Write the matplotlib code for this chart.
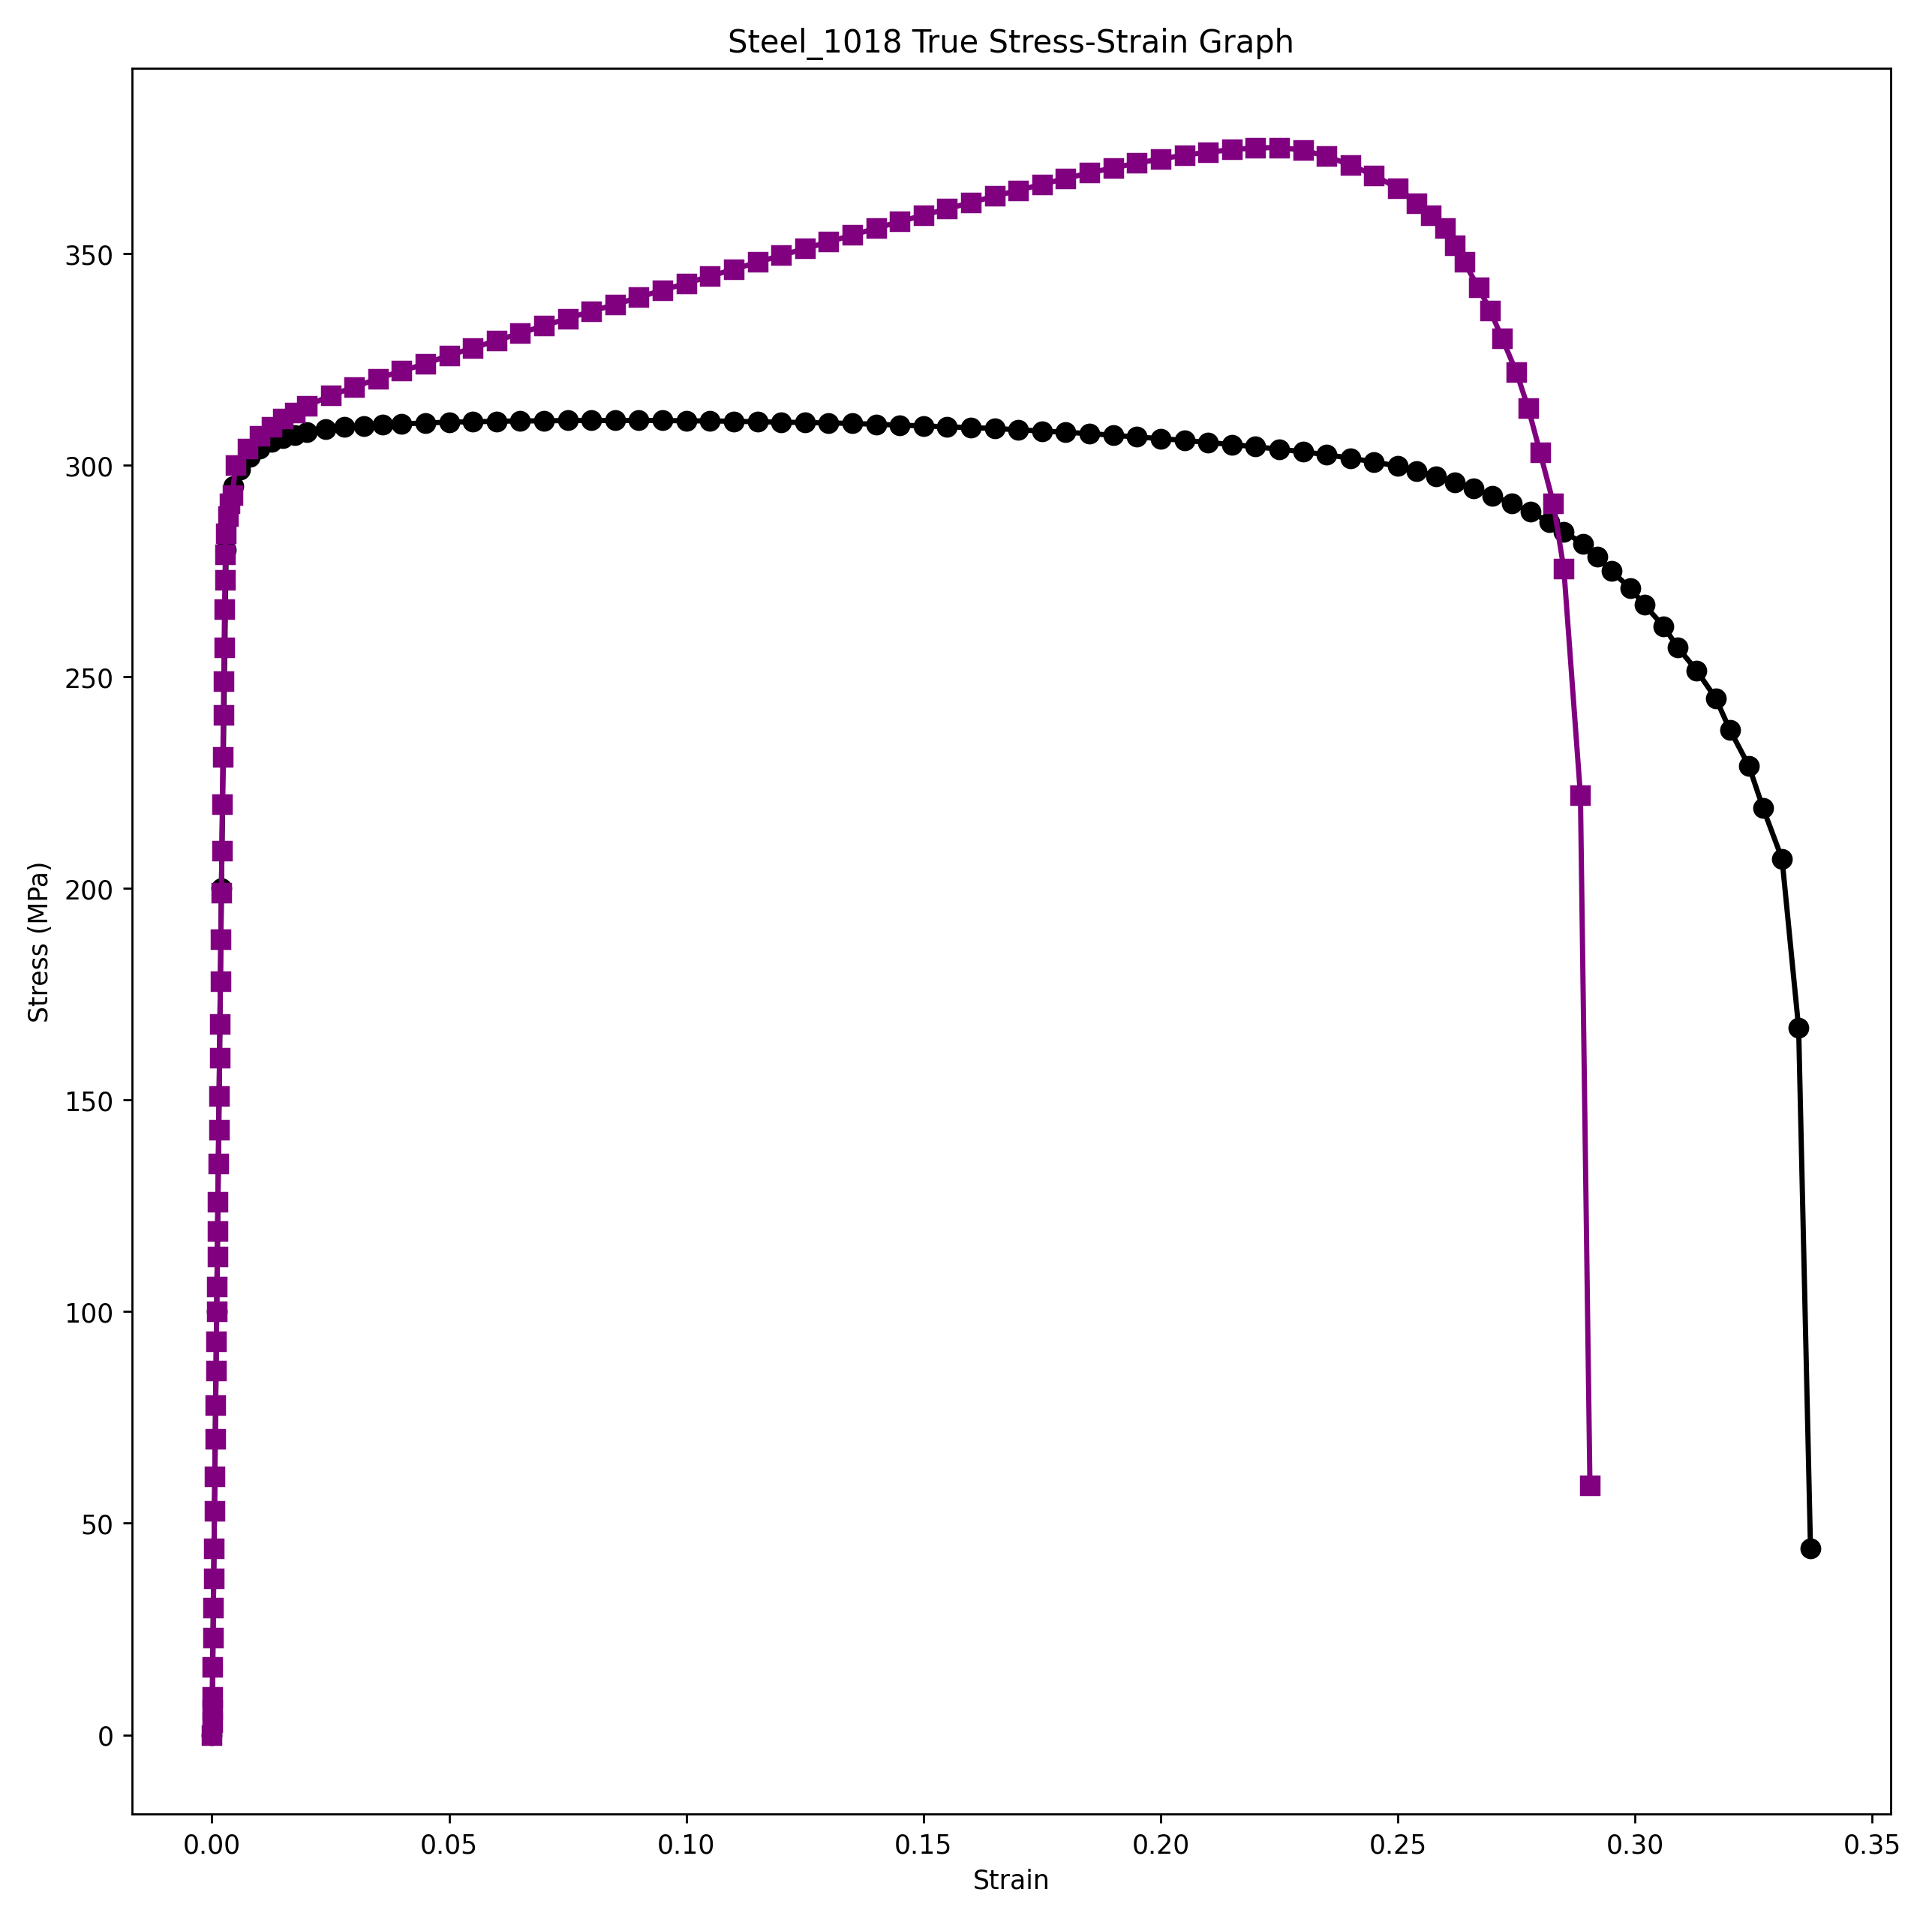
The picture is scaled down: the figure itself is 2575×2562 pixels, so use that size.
import matplotlib
matplotlib.use("Agg")
import matplotlib.pyplot as plt

# elastic region (shared start), purple curve
elastic_strain = [0.0, 0.00003, 0.00006, 0.00009, 0.00016, 0.00023, 0.0003, 0.00037, 0.00044,
                  0.00053, 0.00061, 0.0007, 0.00078, 0.00086, 0.00093, 0.001, 0.00106, 0.00113,
                  0.00119, 0.00126, 0.00135, 0.00143, 0.00151, 0.0016, 0.00168, 0.00178, 0.00188,
                  0.00199, 0.00209, 0.0022, 0.00231, 0.00241, 0.00249, 0.00257, 0.00266, 0.00275,
                  0.00285, 0.00295, 0.0034, 0.0038, 0.0043]
elastic_stress = [0, 3, 6, 9, 16, 23, 30, 37, 44, 53, 61, 70, 78, 86, 93, 100, 106, 113, 119, 126,
                  135, 143, 151, 160, 168, 178, 188, 199, 209, 220, 231, 241, 249, 257, 266, 273,
                  279, 284, 288, 291, 293]

purple_strain = [0.005, 0.0075, 0.01, 0.0125, 0.015, 0.0175, 0.02, 0.025, 0.03, 0.035, 0.04,
                 0.045, 0.05, 0.055, 0.06, 0.065, 0.07, 0.075, 0.08, 0.085, 0.09, 0.095, 0.1,
                 0.105, 0.11, 0.115, 0.12, 0.125, 0.13, 0.135, 0.14, 0.145, 0.15, 0.155, 0.16,
                 0.165, 0.17, 0.175, 0.18, 0.185, 0.19, 0.195, 0.2, 0.205, 0.21, 0.215, 0.22,
                 0.225, 0.23, 0.235, 0.24, 0.245, 0.25, 0.254, 0.257, 0.26, 0.262, 0.264, 0.267,
                 0.2695, 0.272, 0.275, 0.2775, 0.28, 0.2828, 0.285, 0.2885, 0.2905]
purple_stress = [300, 304, 307, 309, 311, 312.5, 314, 316.5, 318.5, 320.5, 322.3, 324, 326,
                 327.7, 329.5, 331.2, 333, 334.7, 336.4, 338, 339.7, 341.4, 343, 344.7, 346.3,
                 348, 349.6, 351.2, 352.8, 354.4, 356, 357.6, 359.1, 360.6, 362.1, 363.6, 365,
                 366.4, 367.8, 369.1, 370.3, 371.4, 372.4, 373.3, 374, 374.6, 375, 375.1, 374.5,
                 373, 371, 368.5, 365.5, 362, 359, 356, 352, 348, 342, 336.5, 330, 322, 313.5,
                 303, 291, 275.5, 222, 59]

black_strain = [0.0, 0.001, 0.002, 0.003, 0.0045, 0.006, 0.008, 0.01, 0.0125, 0.015, 0.0175,
                0.02, 0.024, 0.028, 0.032, 0.036, 0.04, 0.045, 0.05, 0.055, 0.06, 0.065, 0.07,
                0.075, 0.08, 0.085, 0.09, 0.095, 0.1, 0.105, 0.11, 0.115, 0.12, 0.125, 0.13,
                0.135, 0.14, 0.145, 0.15, 0.155, 0.16, 0.165, 0.17, 0.175, 0.18, 0.185, 0.19,
                0.195, 0.2, 0.205, 0.21, 0.215, 0.22, 0.225, 0.23, 0.235, 0.24, 0.245, 0.25,
                0.254, 0.258, 0.262, 0.266, 0.27, 0.274, 0.278, 0.282, 0.285, 0.289, 0.292,
                0.295, 0.299, 0.302, 0.306, 0.309, 0.313, 0.317, 0.320, 0.324, 0.327, 0.331,
                0.3345, 0.337]
black_stress = [0, 100, 200, 280, 295, 299, 302, 304, 305.5, 306.5, 307.2, 307.8, 308.5, 309,
                309.3, 309.6, 309.8, 310, 310.2, 310.3, 310.4, 310.5, 310.5, 310.6, 310.6, 310.6,
                310.6, 310.6, 310.5, 310.5, 310.4, 310.3, 310.2, 310.1, 310, 309.9, 309.7, 309.5,
                309.3, 309.1, 308.9, 308.7, 308.4, 308.1, 307.8, 307.5, 307.1, 306.7, 306.3,
                305.9, 305.4, 304.9, 304.4, 303.8, 303.2, 302.5, 301.7, 300.8, 299.8, 298.7,
                297.4, 296, 294.5, 292.8, 291, 289, 286.5, 284.3, 281.5, 278.5, 275, 271, 267,
                262, 257, 251.5, 245, 237.5, 229, 219, 207, 167, 44]

fig, ax = plt.subplots(figsize=(10.3, 10.25), dpi=250)
ax.plot(black_strain, black_stress, '-o', color='black', lw=2, markersize=7)
ax.plot(elastic_strain + purple_strain, elastic_stress + purple_stress, '-s',
        color='purple', lw=2, markersize=7)
ax.set_title('Steel_1018 True Stress-Strain Graph')
ax.set_xlabel('Strain')
ax.set_ylabel('Stress (MPa)')
plt.tight_layout()
plt.savefig('out.png')
